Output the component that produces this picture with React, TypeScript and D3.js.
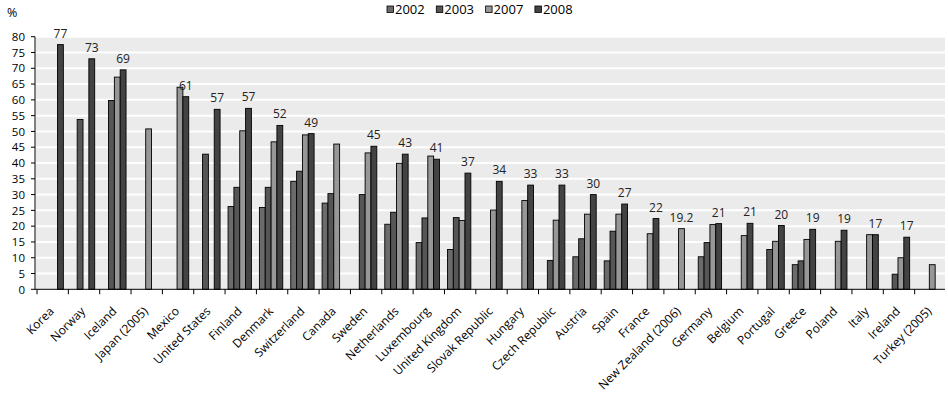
import React from 'react';
import * as d3 from 'd3';

// categories in the order shown
const categories = [
  'Korea', 'Norway', 'Iceland', 'Japan (2005)', 'Mexico', 'United States',
  'Finland', 'Denmark', 'Switzerland', 'Canada', 'Sweden', 'Netherlands',
  'Luxembourg', 'United Kingdom', 'Slovak Republic', 'Hungary',
  'Czech Republic', 'Austria', 'Spain', 'France', 'New Zealand (2006)',
  'Germany', 'Belgium', 'Portugal', 'Greece', 'Poland', 'Italy', 'Ireland',
  'Turkey (2005)',
];

const years = ['2002', '2003', '2007', '2008'];

const v2002 = [null, null, null, null, null, null, 26.2, 25.9, 34.2, 27.3, null, 20.6, 14.8, 12.6, null, null, null, 10.3, 9.0, null, null, 10.3, null, null, 7.8, null, null, null, null];
const v2003 = [null, 53.8, 59.8, null, null, 42.8, 32.3, 32.3, 37.4, 30.3, 30.0, 24.4, 22.6, 22.7, null, null, 9.1, 16.0, 18.4, null, null, 14.8, null, 12.6, 9.0, null, null, 4.8, null];
const v2007 = [null, null, 67.2, 50.8, 64.0, null, 50.2, 46.7, 48.9, 46.0, 43.2, 39.9, 42.2, 21.8, 25.1, 28.1, 21.9, 23.8, 23.8, 17.6, 19.2, 20.5, 17.0, 15.2, 15.8, 15.2, 17.3, 10.0, 7.8];
const v2008 = [77.5, 73.0, 69.5, null, 61.0, 57.0, 57.3, 51.9, 49.3, null, 45.3, 42.8, 41.2, 36.8, 34.2, 33.0, 33.0, 30.0, 27.0, 22.4, null, 20.8, 20.9, 20.2, 19.0, 18.7, 17.3, 16.5, null];

// value labels written above each group
const labels = ['77', '73', '69', '', '61', '57', '57', '52', '49', '', '45', '43', '41', '37', '34', '33', '33', '30', '27', '22', '19.2', '21', '21', '20', '19', '19', '17', '17', ''];

const yTicks = d3.range(0, 81, 5);

const series = [v2002, v2003, v2007, v2008];
const colors = ['#6b6b6b', '#565656', '#979797', '#434343'];

const W = 948;
const H = 396;
const margin = { top: 36.7, right: 3, bottom: 106.7, left: 36 };
const font = '"Open Sans", sans-serif';

export default function App() {
  const x0 = d3
    .scaleBand<string>()
    .domain(categories)
    .range([margin.left, W - margin.right])
    .padding(0);
  const bw = x0.bandwidth();
  const x1 = d3
    .scaleBand<string>()
    .domain(years)
    .range([4, bw - 4])
    .padding(0);
  const y = d3
    .scaleLinear()
    .domain([0, 80])
    .range([H - margin.bottom, margin.top]);

  const plotL = margin.left;
  const plotR = W - margin.right;
  const y0 = y(0);

  return (
    <svg
      width={W}
      height={H}
      style={{ position: 'absolute', left: 0, top: 0, background: '#fff' }}
      fontFamily={font}
    >
      {/* plot background */}
      <rect x={plotL} y={y(80)} width={plotR - plotL} height={y0 - y(80)} fill="#ebebeb" />
      {yTicks.slice(1).map((t) => (
        <line key={t} x1={plotL} x2={plotR} y1={y(t)} y2={y(t)} stroke="#fff" strokeWidth={2} />
      ))}

      {/* bars */}
      {categories.map((c, i) => (
        <g key={c} transform={`translate(${x0(c)},0)`}>
          {series.map((s, k) =>
            s[i] == null ? null : (
              <rect
                key={k}
                x={x1(years[k])}
                y={y(s[i] as number)}
                width={x1.bandwidth()}
                height={y0 - y(s[i] as number)}
                fill={colors[k]}
                stroke="#000"
                strokeWidth={0.9}
              />
            )
          )}
        </g>
      ))}

      {/* value labels */}
      {categories.map((c, i) => {
        if (!labels[i]) return null;
        const k = v2008[i] != null ? 3 : 2;
        const v = series[k][i] as number;
        return (
          <text
            key={c}
            x={(x0(c) as number) + (x1(years[k]) as number) + x1.bandwidth() / 2}
            y={y(v) - 7}
            textAnchor="middle"
            fontSize={12}
            fill="#222"
          >
            {labels[i]}
          </text>
        );
      })}

      {/* y axis */}
      <line x1={plotL - 1} x2={plotL - 1} y1={y(80)} y2={y0} stroke="#000" />
      {yTicks.map((t) => (
        <g key={t}>
          <line x1={plotL - 5} x2={plotL - 1} y1={y(t)} y2={y(t)} stroke="#000" />
          <text x={25} y={y(t) + 4.2} textAnchor="end" fontSize={11.5} fill="#000">
            {t}
          </text>
        </g>
      ))}
      <text x={7} y={17} fontSize={12.5} fill="#000">%</text>

      {/* x axis */}
      <line x1={plotL - 1} x2={plotR} y1={y0} y2={y0} stroke="#000" />
      {categories.map((c) => (
        <line
          key={c}
          x1={(x0(c) as number) + 1}
          x2={(x0(c) as number) + 1}
          y1={y0}
          y2={y0 + 5}
          stroke="#000"
        />
      ))}
      {categories.map((c) => {
        const cx = (x0(c) as number) + bw / 2 + 3;
        return (
          <text
            key={c}
            transform={`translate(${cx},${312}) rotate(-45)`}
            textAnchor="end"
            fontSize={12}
            fill="#000"
          >
            {c}
          </text>
        );
      })}

      {/* legend */}
      {years.map((yr, k) => {
        const lx = 387 + k * 49.3;
        return (
          <g key={yr}>
            <rect x={lx} y={6} width={6.5} height={6.5} fill={colors[k]} stroke="#000" strokeWidth={0.8} />
            <text x={lx + 8} y={14} fontSize={13} fill="#000">
              {yr}
            </text>
          </g>
        );
      })}
    </svg>
  );
}
